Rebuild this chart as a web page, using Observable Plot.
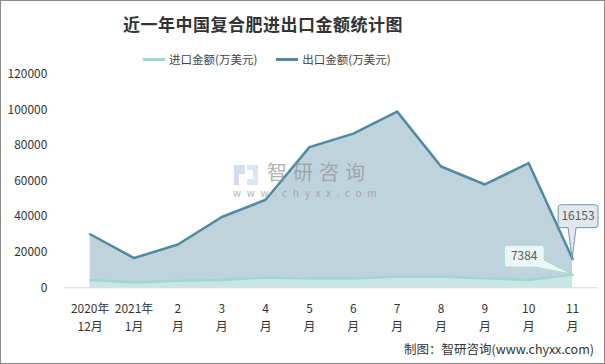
<!DOCTYPE html>
<html><head><meta charset="utf-8">
<script src="https://cdn.jsdelivr.net/npm/d3@7"></script>
<script src="https://cdn.jsdelivr.net/npm/@observablehq/plot@0.6"></script>
<style>
html,body{margin:0;padding:0;background:#fff;}
#wrap{position:relative;width:605px;height:364px;box-sizing:border-box;border:1px solid #8a8a8a;overflow:hidden;font-family:"Noto Sans CJK SC",sans-serif;}
#title{position:absolute;left:0;width:524px;top:10px;text-align:center;font-size:17px;font-weight:bold;color:#333;letter-spacing:0.5px;}
#legend{position:absolute;top:50px;left:142px;font-size:11.5px;color:#444;white-space:nowrap;}
#legend span.sw{display:inline-block;width:22px;height:3px;vertical-align:middle;margin-right:4px;position:relative;top:-1px;}
#legend span.it{margin-right:19px;}
#chart{position:absolute;left:0;top:60px;}
#footer{position:absolute;right:10px;top:338px;font-size:12.5px;color:#333;}
#wm1{position:absolute;left:266px;top:161px;font-size:20px;line-height:20px;color:#8f959b;opacity:0.7;letter-spacing:6px;}
#wm2{position:absolute;left:232px;top:187px;font-size:10px;line-height:10px;color:#8f959b;opacity:0.7;letter-spacing:5.7px;}
#logo{position:absolute;left:233px;top:164px;width:24px;height:20px;opacity:0.55;}
</style></head>
<body>
<div id="wrap">
  <div id="title">近一年中国复合肥进出口金额统计图</div>
  <div id="legend"></div>
  <div id="chart"></div>
  <div id="logo"><svg width="24" height="20"><path d="M0 0H11V9H5V20H0Z" fill="#b5c0d8"/><path d="M13 0H24V20H13V14H19V5H13Z" fill="#b9d4ec"/></svg></div>
  <div id="wm1">智研咨询</div>
  <div id="wm2">www.chyxx.com</div>
  <div id="footer">制图：智研咨询(www.chyxx.com)</div>
</div>
<script>
const months = ["2020年\n12月","2021年\n1月","2\n月","3\n月","4\n月","5\n月","6\n月","7\n月","8\n月","9\n月","10\n月","11\n月"];
const importValues = [4300,3000,3900,4300,5800,5200,5200,6300,6200,5400,4300,7384];
const exportValues = [30100,16700,24300,39800,49500,79100,86700,99100,68200,58100,70100,16153];
const seriesNames = ["进口金额(万美元)","出口金额(万美元)"];
const yTicks = [0,20000,40000,60000,80000,100000,120000];

const colors = {importLine:"#9fd7d2", importFill:"#c8e7e4", exportLine:"#508aa2", exportFill:"#bfd3dc"};

const data = months.map((m,i)=>({month:m, imp:importValues[i], exp:exportValues[i]}));
const last = data[data.length-1];

document.getElementById("legend").innerHTML =
  `<span class="it"><span class="sw" style="background:${colors.importLine}"></span>${seriesNames[0]}</span>` +
  `<span><span class="sw" style="background:${colors.exportLine}"></span>${seriesNames[1]}</span>`;

// callout renderer: box + pointer, positioned from the scaled data point
function callout(kind, label, fill, stroke) {
  return function(index, scales, values) {
    const g = d3.create("svg:g");
    const px = values.x[index[0]], py = values.y[index[0]];
    const r = 3;
    let x0, x1, y0, y1, path;
    if (kind === "above") {
      x0 = px - 14; x1 = px + 26; y0 = py - 54; y1 = py - 31;
      path = `M${x0+r},${y0}H${x1-r}Q${x1},${y0} ${x1},${y0+r}V${y1-r}Q${x1},${y1} ${x1-r},${y1}` +
             `H${px+4}L${px},${py}L${px-4},${y1}H${x0+r}Q${x0},${y1} ${x0},${y1-r}V${y0+r}Q${x0},${y0} ${x0+r},${y0}Z`;
    } else {
      x0 = px - 68; x1 = px - 28; y0 = py - 29; y1 = py - 7;
      path = `M${x0+r},${y0}H${x1-r}Q${x1},${y0} ${x1},${y0+r}V${y1-7}L${px},${py}L${x1-9},${y1}` +
             `H${x0+r}Q${x0},${y1} ${x0},${y1-r}V${y0+r}Q${x0},${y0} ${x0+r},${y0}Z`;
    }
    g.append("path").attr("d", path).attr("fill", fill).attr("stroke", stroke).attr("stroke-width", 1);
    g.append("text").attr("x", (x0+x1)/2).attr("y", (y0+y1)/2).attr("dy", "0.35em")
      .attr("text-anchor", "middle").attr("fill", "#5a5a5a").attr("font-size", 12).text(label);
    return g.node();
  };
}

const chart = Plot.plot({
  width: 605,
  height: 280,
  marginTop: 13,
  marginBottom: 53,
  marginLeft: 63,
  marginRight: 7,
  style: {fontFamily: '"Noto Sans CJK SC", sans-serif', fontSize: "12px", color: "#333", background: "transparent"},
  x: {type: "point", domain: months, padding: 0.5, label: null},
  y: {domain: [0,120000], label: null},
  marks: [
    Plot.areaY(data, {x: "month", y: "exp", fill: colors.exportFill}),
    Plot.areaY(data, {x: "month", y: "imp", fill: colors.importFill}),
    Plot.ruleY([0], {stroke: "#d9d9d9", strokeWidth: 1}),
    Plot.lineY(data, {x: "month", y: "exp", stroke: colors.exportLine, strokeWidth: 2.5}),
    Plot.lineY(data, {x: "month", y: "imp", stroke: colors.importLine, strokeWidth: 2.5}),
    Plot.axisY({ticks: yTicks, tickSize: 0, tickPadding: 17, tickFormat: d => String(d), fontSize: 12, label: null}),
    Plot.axisX({tickSize: 0, tickPadding: 13, lineHeight: 1.5, fontSize: 12, label: null}),
    Plot.dot([last], {x: "month", y: "imp", render: callout("left", String(last.imp), "#ebf6f5", "#a5dbd5")}),
    Plot.dot([last], {x: "month", y: "exp", render: callout("above", String(last.exp), "#e1e9ee", "#6d98ac")})
  ]
});
document.getElementById("chart").appendChild(chart);
</script>
</body></html>
